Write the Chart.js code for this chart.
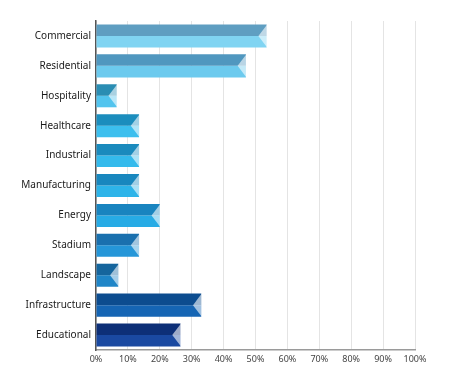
<!DOCTYPE html>
<html>
<head>
<meta charset="utf-8">
<script src="https://cdn.jsdelivr.net/npm/chart.js@4/dist/chart.umd.min.js"></script>
<style>
  html, body { margin: 0; padding: 0; background: #fff; }
  #wrap { width: 450px; height: 385px; }
</style>
</head>
<body>
<div id="wrap"><canvas id="barChart" width="450" height="385"></canvas></div>
<script>
var sectors = ["Commercial", "Residential", "Hospitality", "Healthcare", "Industrial",
  "Manufacturing", "Energy", "Stadium", "Landscape", "Infrastructure", "Educational"];
var shares = [53.5, 47, 6.5, 13.5, 13.5, 13.5, 20, 13.5, 7, 33, 26.5];
var xTicks = [0, 10, 20, 30, 40, 50, 60, 70, 80, 90, 100];

// top half (darker) and bottom half (lighter) of each ribbon bar
var topColors = ["#5f9ec1", "#5097bf", "#2a8db3", "#1b8dbd", "#1a8abd",
  "#1887be", "#1984bf", "#1a70ae", "#15659d", "#0c4c8f", "#0d2f77"];
var bottomColors = ["#80d4f2", "#6ccaee", "#52c4ee", "#3cbfee", "#34baec",
  "#2db4e9", "#27abe5", "#2596d8", "#1f85c7", "#1565b4", "#1a49a1"];

// pale chevron notch at the end of each bar
var notchPlugin = {
  id: 'notch',
  afterDatasetsDraw: function(chart) {
    var c = chart.ctx;
    var upper = chart.getDatasetMeta(0).data;
    var lower = chart.getDatasetMeta(1).data;
    for (var i = 0; i < upper.length; i++) {
      var a = upper[i], b = lower[i];
      var top = a.y - a.height / 2;
      var bottom = b.y + b.height / 2;
      var mid = (a.y + a.height / 2 + b.y - b.height / 2) / 2;
      var depth = (bottom - top) * 0.36;
      c.save();
      c.fillStyle = 'rgba(255,255,255,0.6)';
      c.beginPath();
      c.moveTo(a.x + 0.5, top);
      c.lineTo(a.x - depth, mid);
      c.lineTo(b.x + 0.5, bottom);
      c.closePath();
      c.fill();
      c.restore();
    }
  }
};

new Chart(document.getElementById('barChart'), {
  type: 'bar',
  data: {
    labels: sectors,
    datasets: [
      { data: shares, backgroundColor: topColors, borderWidth: 0 },
      { data: shares, backgroundColor: bottomColors, borderWidth: 0 }
    ]
  },
  options: {
    indexAxis: 'y',
    responsive: false,
    animation: false,
    devicePixelRatio: 1,
    categoryPercentage: 0.77,
    barPercentage: 1,
    layout: { padding: { top: 21, right: 35, left: 0, bottom: 0 } },
    plugins: { legend: { display: false }, tooltip: { enabled: false } },
    scales: {
      x: {
        min: 0,
        max: 100,
        afterBuildTicks: function(scale) {
          scale.ticks = xTicks.map(function(v) { return { value: v }; });
        },
        afterFit: function(scale) { scale.height = 35; },
        grid: { color: '#e4e4e4', drawTicks: false, lineWidth: 1 },
        border: { color: '#9a9a9a', width: 1.5 },
        ticks: {
          padding: 4,
          color: '#444',
          font: { family: 'Noto Sans', size: 9 },
          callback: function(v) { return v + '%'; }
        }
      },
      y: {
        afterFit: function(scale) { scale.width = 96; },
        grid: { display: false, drawTicks: false },
        border: { color: '#555', width: 1.5 },
        ticks: {
          padding: 5,
          color: '#1a1a1a',
          font: { family: 'Noto Sans', size: 10 }
        }
      }
    }
  },
  plugins: [notchPlugin]
});
</script>
</body>
</html>
